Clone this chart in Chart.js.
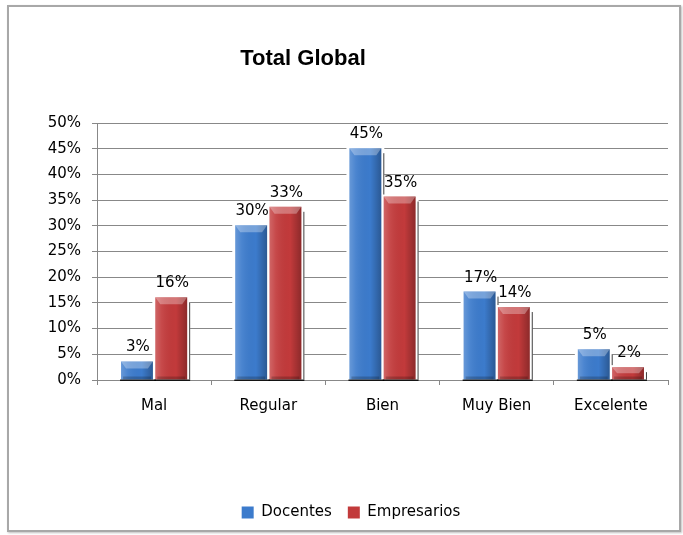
<!DOCTYPE html>
<html>
<head>
<meta charset="utf-8">
<script src="https://cdn.jsdelivr.net/npm/chart.js@4.4.1/dist/chart.umd.min.js"></script>
<style>
  html, body { margin: 0; padding: 0; background: #fff; }
  #marco { position: absolute; left: 7px; top: 5px; width: 674px; height: 527px;
           border: 2px solid #a8a8a8; box-sizing: border-box; box-shadow: 1px 1px 2px rgba(0,0,0,0.25); }
  #lienzo { position: absolute; left: 0; top: 0; }
</style>
</head>
<body>
<div id="marco"></div>
<canvas id="lienzo" width="683" height="535"></canvas>
<script>
// Datos
const categorias = ['Mal', 'Regular', 'Bien', 'Muy Bien', 'Excelente'];
const docentes = [3.6, 30.1, 45.1, 17.2, 6.0];
const empresarios = [16.1, 33.7, 35.7, 14.2, 2.5];
const etiquetasDocentes = ['3%', '30%', '45%', '17%', '5%'];
const etiquetasEmpresarios = ['16%', '33%', '35%', '14%', '2%'];
const titulo = 'Total Global';

const fuente = { family: 'DejaVu Sans', size: 15 };
const gris = '#888888';

// Título desplazado a la izquierda como en el original
const pluginTitulo = {
  id: 'pluginTitulo',
  afterDraw(chart) {
    const ctx = chart.ctx;
    ctx.save();
    ctx.font = 'bold 22px "Liberation Sans"';
    ctx.fillStyle = '#000';
    ctx.textAlign = 'center';
    ctx.textBaseline = 'middle';
    ctx.fillText(titulo, 303, 59);
    ctx.restore();
  }
};

// Fondo blanco alrededor de cada barra, relieve y etiquetas
const pluginBarras = {
  id: 'pluginBarras',
  beforeDatasetsDraw(chart) {
    const ctx = chart.ctx;
    ctx.save();
    ctx.fillStyle = '#fff';
    chart.data.datasets.forEach((ds, i) => {
      chart.getDatasetMeta(i).data.forEach(bar => {
        const p = bar.getProps(['x', 'y', 'base', 'width'], true);
        ctx.fillRect(p.x - p.width / 2 - 3, p.y - 2, p.width + 6, p.base - p.y + 1);
      });
    });
    ctx.restore();
  },
  afterDatasetsDraw(chart) {
    const ctx = chart.ctx;
    ctx.save();
    const metas = chart.data.datasets.map((ds, i) => chart.getDatasetMeta(i));
    metas.forEach((meta, i) => {
      meta.data.forEach((bar, j) => {
        const p = bar.getProps(['x', 'y', 'base', 'width'], true);
        const izq = p.x - p.width / 2, der = p.x + p.width / 2;
        const alto = p.base - p.y;
        // degradado horizontal
        const g = ctx.createLinearGradient(izq, 0, der, 0);
        g.addColorStop(0, 'rgba(255,255,255,0.22)');
        g.addColorStop(0.2, 'rgba(255,255,255,0.08)');
        g.addColorStop(0.65, 'rgba(0,0,0,0)');
        g.addColorStop(1, 'rgba(0,0,0,0.28)');
        ctx.fillStyle = g;
        ctx.fillRect(izq, p.y, p.width, alto);
        // bisel superior
        const b = Math.min(7, alto / 2);
        ctx.fillStyle = 'rgba(255,255,255,0.3)';
        ctx.beginPath();
        ctx.moveTo(izq, p.y);
        ctx.lineTo(der, p.y);
        ctx.lineTo(der - 5, p.y + b);
        ctx.lineTo(izq + 5, p.y + b);
        ctx.closePath();
        ctx.fill();
        // bisel inferior
        ctx.fillStyle = 'rgba(0,0,0,0.2)';
        ctx.fillRect(izq + 2, p.base - 3, p.width - 4, 3);
        // sombra bajo la barra
        ctx.fillStyle = 'rgba(0,0,0,0.85)';
        ctx.fillRect(izq - 1, p.base, p.width + 4, 1.5);
        // línea de sombra a la derecha
        let hasta = p.base;
        if (i + 1 < metas.length) {
          const sig = metas[i + 1].data[j].getProps(['y'], true);
          hasta = sig.y - 2;
        }
        if (hasta > p.y + 6) {
          ctx.fillStyle = 'rgba(0,0,0,0.75)';
          ctx.fillRect(der + 2, p.y + 5, 1, hasta - p.y - 5);
        }
      });
    });
    // etiquetas de valor
    ctx.font = '15px "DejaVu Sans"';
    ctx.fillStyle = '#000';
    ctx.textAlign = 'center';
    ctx.textBaseline = 'alphabetic';
    const etiquetas = [etiquetasDocentes, etiquetasEmpresarios];
    metas.forEach((meta, i) => {
      meta.data.forEach((bar, j) => {
        const p = bar.getProps(['x', 'y'], true);
        ctx.fillText(etiquetas[i][j], p.x + 1, p.y - 10);
      });
    });
    ctx.restore();
  }
};

new Chart(document.getElementById('lienzo'), {
  type: 'bar',
  data: {
    labels: categorias,
    datasets: [
      { label: 'Docentes', data: docentes, backgroundColor: '#3c7bcc', borderWidth: 0,
        categoryPercentage: 0.6, barPercentage: 0.93 },
      { label: 'Empresarios', data: empresarios, backgroundColor: '#c23a3b', borderWidth: 0,
        categoryPercentage: 0.6, barPercentage: 0.93 }
    ]
  },
  options: {
    responsive: false,
    animation: false,
    layout: { padding: { left: 34, right: 15, top: 123, bottom: 5 } },
    plugins: {
      title: { display: false },
      tooltip: { enabled: false },
      legend: {
        position: 'bottom',
        labels: { boxWidth: 12, boxHeight: 12, padding: 16, color: '#000', font: fuente }
      }
    },
    scales: {
      x: {
        grid: { drawOnChartArea: false, tickLength: 5, color: gris },
        border: { color: gris },
        ticks: { color: '#000', padding: 12, font: fuente },
        afterFit(s) { s.height = 109; }
      },
      y: {
        min: 0,
        max: 50,
        ticks: { stepSize: 5, padding: 11, color: '#000', font: fuente, callback: v => v + '%' },
        grid: { color: gris, tickLength: 5 },
        border: { color: gris },
        afterFit(s) { s.width = 63; }
      }
    }
  },
  plugins: [pluginTitulo, pluginBarras]
});
</script>
</body>
</html>
